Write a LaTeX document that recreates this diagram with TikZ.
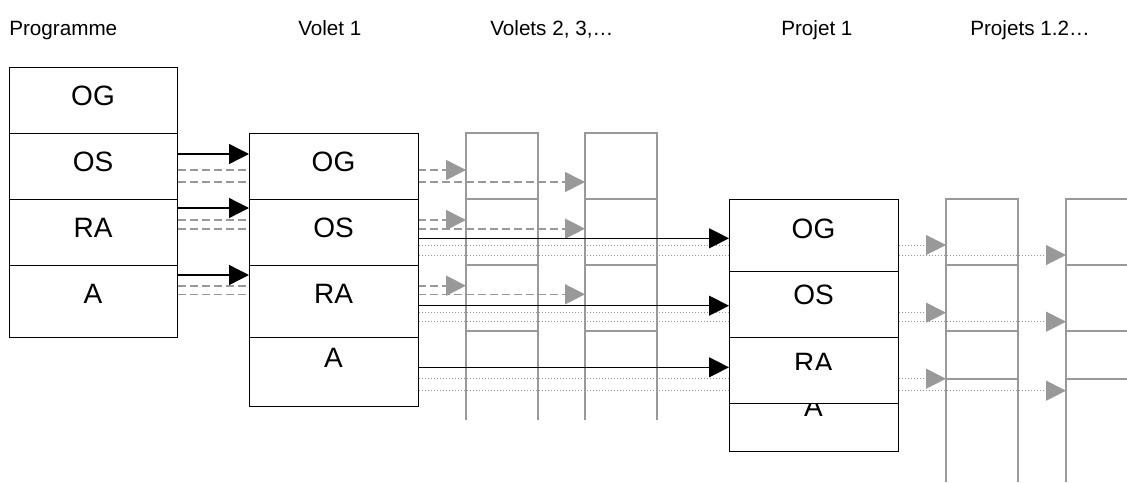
\documentclass[tikz,border=0pt]{standalone}
\usepackage{fontspec}
\setmainfont{Liberation Sans}
\usetikzlibrary{arrows.meta,backgrounds}

\definecolor{greyline}{RGB}{153,153,153}

\tikzset{
  rowbox/.style={draw=black, line width=1pt, fill=white, inner sep=0pt, anchor=north west},
  rowtext/.style={anchor=base, inner sep=0pt, font=\fontsize{21}{21}\selectfont},
  coltitle/.style={anchor=base west, inner sep=0pt, font=\fontsize{15.5}{15.5}\selectfont},
  solidarrow/.style={line width=1pt, -{Triangle[length=15pt,width=15pt]}},
  dasharrow/.style={greyline, line width=1.2pt, dash pattern=on 6pt off 3pt, -{Triangle[length=15pt,width=15pt]}},
  dotarrow/.style={greyline, line width=0.75pt, dash pattern=on 0.75pt off 1.5pt, -{Triangle[length=15pt,width=15pt]}},
  greycol/.style={greyline, line width=1pt},
}

\begin{document}
\begin{tikzpicture}[x=0.75pt,y=-0.75pt]
        \useasboundingbox (0,0) rectangle (1127,482);

        % column titles
        \node[coltitle] (tProgramme) at (9,35.7) {Programme};
        \node[coltitle] (tVolet) at (298,35.7) {Volet 1};
        \node[coltitle] (tVolets) at (490,35.7) {Volets 2, 3,…};
        \node[coltitle] (tProjet) at (781,35.7) {Projet 1};
        \node[coltitle] (tProjets) at (970,35.7) {Projets 1.2…};

        % grey columns (volets 2, 3 and projets 1.2)
        \foreach \xa/\xb in {466/538, 585/657} {
          \draw[greycol] (\xa,420) -- (\xa,133) -- (\xb,133) -- (\xb,420);
          \foreach \yy in {199,265,331}
            \draw[greycol] (\xa,\yy) -- (\xb,\yy);
        }
        \foreach \xa/\xb in {946/1018, 1066/1160} {
          \draw[greycol] (\xa,482) -- (\xa,199) -- (\xb,199) -- (\xb,482);
          \foreach \yy in {265,331,379}
            \draw[greycol] (\xa,\yy) -- (\xb,\yy);
        }
        \coordinate (gvA) at (466,133);
        \coordinate (gvB) at (585,133);
        \coordinate (gpA) at (946,199);
        \coordinate (gpB) at (1066,199);

        % programme
        \node[rowbox, minimum width=126pt, minimum height=49.5pt] (prOG) at (9,67) {};
        \node[rowbox, minimum width=126pt, minimum height=49.5pt] (prOS) at (9,133) {};
        \node[rowbox, minimum width=126pt, minimum height=49.5pt] (prRA) at (9,199) {};
        \node[rowbox, minimum width=126pt, minimum height=54pt] (prA) at (9,265) {};
        \node[rowtext] (lPrOG) at (93,105) {OG};
        \node[rowtext] (lPrOS) at (93,171) {OS};
        \node[rowtext] (lPrRA) at (93,237) {RA};
        \node[rowtext] (lPrA) at (93,303) {A};

        % volet 1
        \node[rowbox, minimum width=126.75pt, minimum height=49.5pt] (voOG) at (249,133) {};
        \node[rowbox, minimum width=126.75pt, minimum height=49.5pt] (voOS) at (249,199) {};
        \node[rowbox, minimum width=126.75pt, minimum height=54pt] (voRA) at (249,265) {};
        \node[rowbox, minimum width=126.75pt, minimum height=51.75pt] (voA) at (249,337) {};
        \node[rowtext] (lVoOG) at (333.5,171) {OG};
        \node[rowtext] (lVoOS) at (333.5,237) {OS};
        \node[rowtext] (lVoRA) at (333.5,303) {RA};
        \node[rowtext] (lVoA) at (333.5,367) {A};

        % projet 1
        \node[rowbox, minimum width=126.75pt, minimum height=54pt] (pjOG) at (729,199) {};
        \node[rowbox, minimum width=126.75pt, minimum height=49.5pt] (pjOS) at (729,271) {};
        \node[rowbox, minimum width=126.75pt, minimum height=36pt] (pjA) at (729,403) {};
        \node[rowtext] (lPjA) at (813.5,416) {A};
        \node[rowbox, minimum width=126.75pt, minimum height=49.5pt] (pjRA) at (729,337) {};
        \node[rowtext] (lPjOG) at (813.5,238) {OG};
        \node[rowtext] (lPjOS) at (813.5,304) {OS};
        \begin{scope}
          \clip (729,337) rectangle (898,369);
          \node[rowtext] (lPjRA) at (813.5,372) {RA};
        \end{scope}

        % links behind the boxes
        \begin{scope}[on background layer]
          \draw[dasharrow] (prOS.east |- 0,170) -- (gvA |- 0,170);
          \draw[dasharrow] (prOS.east |- 0,182) -- (gvB |- 0,182);
          \draw[dasharrow] (prRA.east |- 0,220) -- (gvA |- 0,220);
          \draw[dasharrow] (prRA.east |- 0,228.7) -- (gvB |- 0,228.7);
          \draw[dasharrow] (prA.east |- 0,285.7) -- (gvA |- 0,285.7);
          \draw[dasharrow] (prA.east |- 0,294.3) -- (gvB |- 0,294.3);

          \draw[dotarrow] (voOS.east |- 0,245) -- (gpA |- 0,245);
          \draw[dotarrow] (voOS.east |- 0,255) -- (gpB |- 0,255);
          \draw[dotarrow] (voRA.east |- 0,312.7) -- (gpA |- 0,312.7);
          \draw[dotarrow] (voRA.east |- 0,321.7) -- (gpB |- 0,321.7);
          \draw[dotarrow] (voA.east |- 0,378.7) -- (gpA |- 0,378.7);
          \draw[dotarrow] (voA.east |- 0,390.7) -- (gpB |- 0,390.7);
        \end{scope}

        % main links
        \draw[solidarrow] (prOS.east |- 0,154) -- (voOG.west |- 0,154);
        \draw[solidarrow] (prRA.east |- 0,208) -- (voOS.west |- 0,208);
        \draw[solidarrow] (prA.east |- 0,275) -- (voRA.west |- 0,275);
        \draw[solidarrow] (voOS.east |- 0,238.3) -- (pjOG.west |- 0,238.3);
        \draw[solidarrow] (voRA.east |- 0,305.7) -- (pjOS.west |- 0,305.7);
        \draw[solidarrow] (voA.east |- 0,367.3) -- (pjRA.west |- 0,367.3);
\end{tikzpicture}
\end{document}
